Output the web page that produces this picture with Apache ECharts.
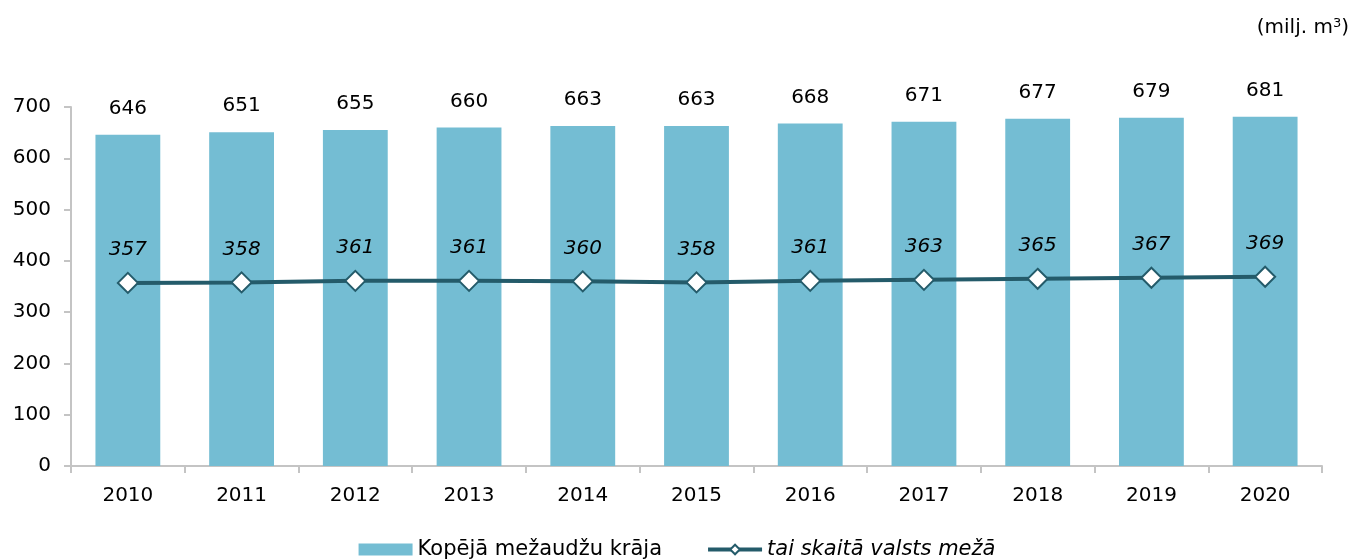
<!DOCTYPE html>
<html>
<head>
<meta charset="utf-8">
<script src="https://cdn.jsdelivr.net/npm/echarts@6/dist/echarts.min.js"></script>
<style>
html,body{margin:0;padding:0;background:#fff;}
#chart{width:1354px;height:559px;}
</style>
</head>
<body>
<div id="chart"></div>
<script>
const years = ['2010','2011','2012','2013','2014','2015','2016','2017','2018','2019','2020'];
const totalStock = [646,651,655,660,663,663,668,671,677,679,681];
const stateForest = [357,358,361,361,360,358,361,363,365,367,369];
const seriesNames = ['Kopējā mežaudžu krāja','tai skaitā valsts mežā'];

const FONT = 'DejaVu Sans';
const chart = echarts.init(document.getElementById('chart'));
chart.setOption({
  animation: false,
  textStyle: {fontFamily: FONT},
  grid: {left: 71, right: 32, top: 107, bottom: 93},
  graphic: [{
    type: 'text',
    right: 5,
    top: 17,
    style: {
      text: '(milj. m{sup|3})',
      fontFamily: FONT,
      fontSize: 20,
      fill: '#000',
      rich: {sup: {fontSize: 13, verticalAlign: 'top', padding: [0,0,9,0], fontFamily: FONT}}
    }
  }],
  legend: {
    bottom: -6,
    left: 'center',
    itemGap: 44,
    itemWidth: 54,
    itemHeight: 12,
    textStyle: {fontSize: 21, fontFamily: FONT, color: '#000'},
    lineStyle: {width: 4},
    data: [
      {name: seriesNames[0], icon: 'rect', itemWidth: 52},
      {name: seriesNames[1], textStyle: {fontStyle: 'italic'}}
    ]
  },
  xAxis: {
    type: 'category',
    data: years,
    axisLine: {lineStyle: {color: '#c4c4c4', width: 2}},
    axisTick: {show: true, length: 7, lineStyle: {color: '#c4c4c4', width: 2}},
    axisLabel: {fontSize: 20, color: '#000', margin: 20, fontFamily: FONT}
  },
  yAxis: {
    type: 'value',
    min: 0, max: 700, interval: 100,
    splitLine: {show: false},
    axisLine: {show: true, lineStyle: {color: '#c4c4c4', width: 2}},
    axisTick: {show: true, length: 7, lineStyle: {color: '#c4c4c4', width: 2}},
    axisLabel: {fontSize: 20, color: '#000', margin: 20, fontFamily: FONT}
  },
  series: [
    {
      name: seriesNames[0],
      type: 'bar',
      data: totalStock,
      barWidth: '57%',
      itemStyle: {color: '#74bdd3'},
      label: {show: true, position: 'top', distance: 16, fontSize: 20, color: '#000', fontFamily: FONT}
    },
    {
      name: seriesNames[1],
      type: 'line',
      data: stateForest,
      symbol: 'diamond',
      symbolSize: 20,
      lineStyle: {color: '#245b6a', width: 4},
      itemStyle: {color: '#ffffff', borderColor: '#245b6a', borderWidth: 2},
      label: {show: true, position: 'top', distance: 12, fontSize: 20, fontStyle: 'italic', color: '#000', fontFamily: FONT}
    }
  ]
});
</script>
</body>
</html>
